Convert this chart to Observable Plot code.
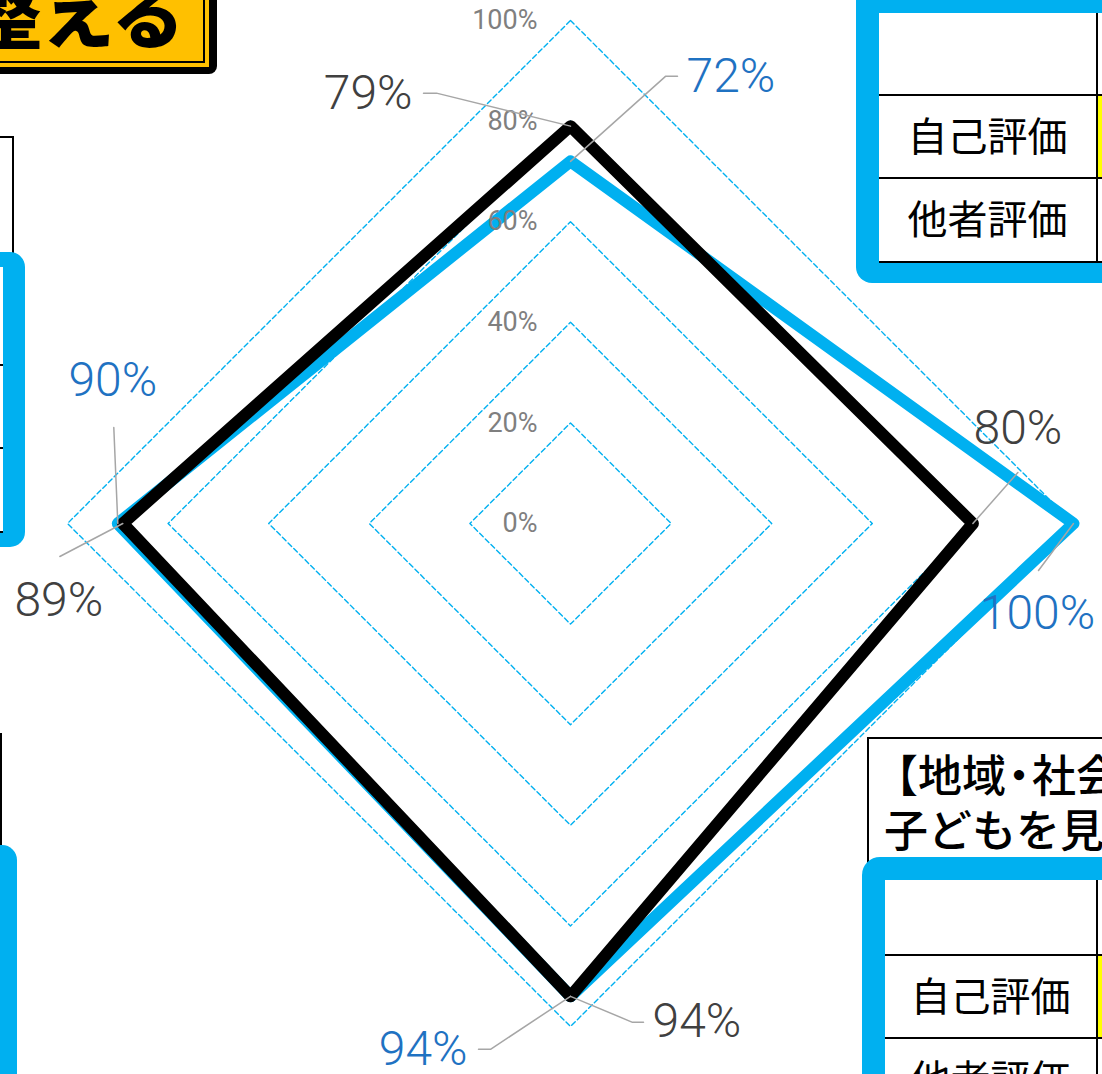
<!DOCTYPE html>
<html lang="ja">
<head>
<meta charset="utf-8">
<script src="https://cdn.jsdelivr.net/npm/d3@7"></script>
<script src="https://cdn.jsdelivr.net/npm/@observablehq/plot@0.6"></script>
<style>
  html, body { margin: 0; padding: 0; background: #fff; }
  #stage { position: relative; width: 1102px; height: 1074px; overflow: hidden; background: #fff; }
  .abs { position: absolute; box-sizing: border-box; }
  .cjk { font-family: "Noto Sans CJK JP", "Noto Sans CJK SC", sans-serif; color: #000; }
  .cell { display: flex; align-items: center; justify-content: center; font-size: 40px; padding-bottom: 6px; }
  #chart { position: absolute; left: 0; top: 0; }
</style>
</head>
<body>
<div id="stage">
  <!-- title box (top-left, cropped) -->
  <div class="abs" style="left:-30px; top:-30px; width:247px; height:104px; background:#000; border-radius:0 0 8px 0;"></div>
  <div class="abs" style="left:-30px; top:-30px; width:239px; height:97px; background:#FFC000;"></div>
  <div class="abs" style="left:-30px; top:-30px; width:235px; height:93px; background:#FFC000; border-right:2px solid #000; border-bottom:2px solid #000;"></div>
  <div class="abs cjk" style="left:-300px; top:-25px; width:484px; text-align:right; font-size:72px; line-height:72px; font-weight:900; white-space:nowrap;">整える</div>

  <!-- left side tables (cropped) -->
  <div class="abs" style="left:-10px; top:136px; width:24px; height:130px; border-top:2px solid #000; border-right:2px solid #000;"></div>
  <div class="abs" style="left:-60px; top:252px; width:85px; height:295px; background:#00B0F0; border-radius:15px;"></div>
  <div class="abs" style="left:-60px; top:267px; width:63px; height:265px; background:#fff;"></div>
  <div class="abs" style="left:-60px; top:364px; width:63px; height:2px; background:#000;"></div>
  <div class="abs" style="left:-60px; top:447px; width:63px; height:2px; background:#000;"></div>
  <div class="abs" style="left:-60px; top:531px; width:63px; height:2px; background:#000;"></div>

  <div class="abs" style="left:-10px; top:733px; width:12px; height:130px; border-top:2px solid #000; border-right:2px solid #000;"></div>
  <div class="abs" style="left:-60px; top:845px; width:77px; height:300px; background:#00B0F0; border-radius:15px;"></div>

  <!-- right top table (cropped) -->
  <div class="abs" style="left:856px; top:-40px; width:320px; height:323px; background:#00B0F0; border-radius:16px;"></div>
  <div class="abs" style="left:879px; top:13px; width:300px; height:249px; background:#fff;"></div>
  <div class="abs" style="left:879px; top:94px; width:300px; height:2px; background:#000;"></div>
  <div class="abs" style="left:879px; top:177px; width:300px; height:2px; background:#000;"></div>
  <div class="abs" style="left:879px; top:261px; width:300px; height:2px; background:#000;"></div>
  <div class="abs" style="left:1096px; top:13px; width:2px; height:249px; background:#000;"></div>
  <div class="abs" style="left:1098px; top:96px; width:10px; height:81px; background:#FFFF00;"></div>
  <div class="abs cjk cell" style="left:879px; top:96px; width:217px; height:81px;">自己評価</div>
  <div class="abs cjk cell" style="left:879px; top:179px; width:217px; height:82px;">他者評価</div>

  <!-- right bottom block (cropped) -->
  <div class="abs" style="left:867px; top:737px; width:320px; height:400px; border:2px solid #000; background:#fff;"></div>
  <div class="abs cjk" style="left:874px; top:746px; width:600px; font-size:44px; line-height:55px; font-weight:500; white-space:nowrap;">【地域<span style="margin-left:-9px; margin-right:-9px;">・</span>社会と連携して</div>
  <div class="abs cjk" style="left:884px; top:801px; width:600px; font-size:44px; line-height:55px; font-weight:500; white-space:nowrap;">子どもを見守る】</div>
  <div class="abs" style="left:862px; top:857px; width:320px; height:320px; background:#00B0F0; border-radius:18px;"></div>
  <div class="abs" style="left:885px; top:880px; width:300px; height:300px; background:#fff;"></div>
  <div class="abs" style="left:885px; top:954px; width:300px; height:2px; background:#000;"></div>
  <div class="abs" style="left:885px; top:1037px; width:300px; height:2px; background:#000;"></div>
  <div class="abs" style="left:1096px; top:880px; width:2px; height:300px; background:#000;"></div>
  <div class="abs" style="left:1098px; top:956px; width:10px; height:81px; background:#FFFF00;"></div>
  <div class="abs cjk cell" style="left:885px; top:956px; width:211px; height:81px;">自己評価</div>
  <div class="abs cjk cell" style="left:885px; top:1039px; width:211px; height:82px;">他者評価</div>

  <div id="chart"></div>
</div>
<script>
// ---- data ----
const seriesNames = ["自己評価", "他者評価"];
const axisIndex = [0, 1, 2, 3];           // top, right, bottom, left (clockwise)
const selfScores = [72, 100, 94, 90];     // blue
const otherScores = [79, 80, 94, 89];     // black
const gridLevels = [20, 40, 60, 80, 100];
const tickValues = [0, 20, 40, 60, 80, 100];

// ---- layout ----
const W = 1102, H = 1074, CX = 570, CY = 523, R = 503; // px per 100%
const FONT = "Roboto, 'Noto Sans', sans-serif";
const BLUE = "#00B0F0", BLUE_TEXT = "#1F72C2", DARK_TEXT = "#404040";

function polar(i, v) {
  const a = i * Math.PI / 2;
  return [(v / 100) * Math.sin(a), (v / 100) * Math.cos(a)];
}

const seriesRows = [
  ...selfScores.map((v, i) => ({series: seriesNames[0], i, v})),
  ...otherScores.map((v, i) => ({series: seriesNames[1], i, v}))
].map(d => ({...d, x: polar(d.i, d.v)[0], y: polar(d.i, d.v)[1]}));

const gridRows = gridLevels.flatMap(level => axisIndex.map(i => ({level, x: polar(i, level)[0], y: polar(i, level)[1]})));

// label layout: pixel offsets from the data vertex
const labelLayout = [
  {s: 0, i: 0, pts: [[95, -85], [107, -85]], t: [116, -85], anchor: "start"},
  {s: 1, i: 0, pts: [[-134, -33], [-147, -33]], t: [-158, -33], anchor: "end"},
  {s: 0, i: 3, pts: [[-4, -96]], t: [-5, -143], anchor: "middle"},
  {s: 1, i: 3, pts: [[-63, 33]], t: [-64, 77], anchor: "middle"},
  {s: 1, i: 1, pts: [[45, -51]], t: [45, -95], anchor: "middle"},
  {s: 0, i: 1, pts: [[-35, 47]], t: [-36, 90], anchor: "middle"},
  {s: 0, i: 2, pts: [[-80, 53], [-92, 53]], t: [-103, 53], anchor: "end"},
  {s: 1, i: 2, pts: [[62, 26], [73, 26]], t: [82, 25], anchor: "start"}
];
const scoreSets = [selfScores, otherScores];

const leaderRows = labelLayout.flatMap((L, k) => {
  const v = scoreSets[L.s][L.i];
  const [vx, vy] = polar(L.i, v);
  return [[0, 0], ...L.pts].map(([dx, dy]) => ({id: k, x: vx + dx / R, y: vy - dy / R}));
});

const labelMarks = labelLayout.map(L => {
  const v = scoreSets[L.s][L.i];
  const [vx, vy] = polar(L.i, v);
  return Plot.text([{x: vx + L.t[0] / R, y: vy - L.t[1] / R, text: `${v}%`}], {
    x: "x", y: "y", text: "text", textAnchor: L.anchor,
    fill: L.s === 0 ? BLUE_TEXT : DARK_TEXT,
    fontSize: 48, fontFamily: FONT, fontWeight: 300
  });
});

const chart = Plot.plot({
  width: W, height: H,
  margin: 0,
  x: {domain: [-CX / R, (W - CX) / R], axis: null},
  y: {domain: [-(H - CY) / R, CY / R], axis: null},
  style: {background: "transparent", overflow: "visible"},
  marks: [
    Plot.line(gridRows, {x: "x", y: "y", z: "level", curve: "linear-closed", stroke: BLUE, strokeWidth: 1.4, strokeDasharray: "5,3"}),
    Plot.line(seriesRows.filter(d => d.series === seriesNames[0]), {x: "x", y: "y", curve: "linear-closed", stroke: BLUE, strokeWidth: 12, strokeLinejoin: "round"}),
    Plot.line(seriesRows.filter(d => d.series === seriesNames[1]), {x: "x", y: "y", curve: "linear-closed", stroke: "#000", strokeWidth: 12, strokeLinejoin: "round"}),
    Plot.text(tickValues, {x: () => 0, y: d => d / 100, text: d => `${d}%`, textAnchor: "end", dx: -33, fill: "#7F7F7F", fontSize: 27, fontFamily: FONT, fontWeight: 400}),
    Plot.line(leaderRows, {x: "x", y: "y", z: "id", stroke: "#A6A6A6", strokeWidth: 1.5}),
    ...labelMarks
  ]
});
document.getElementById("chart").appendChild(chart);
</script>
</body>
</html>
